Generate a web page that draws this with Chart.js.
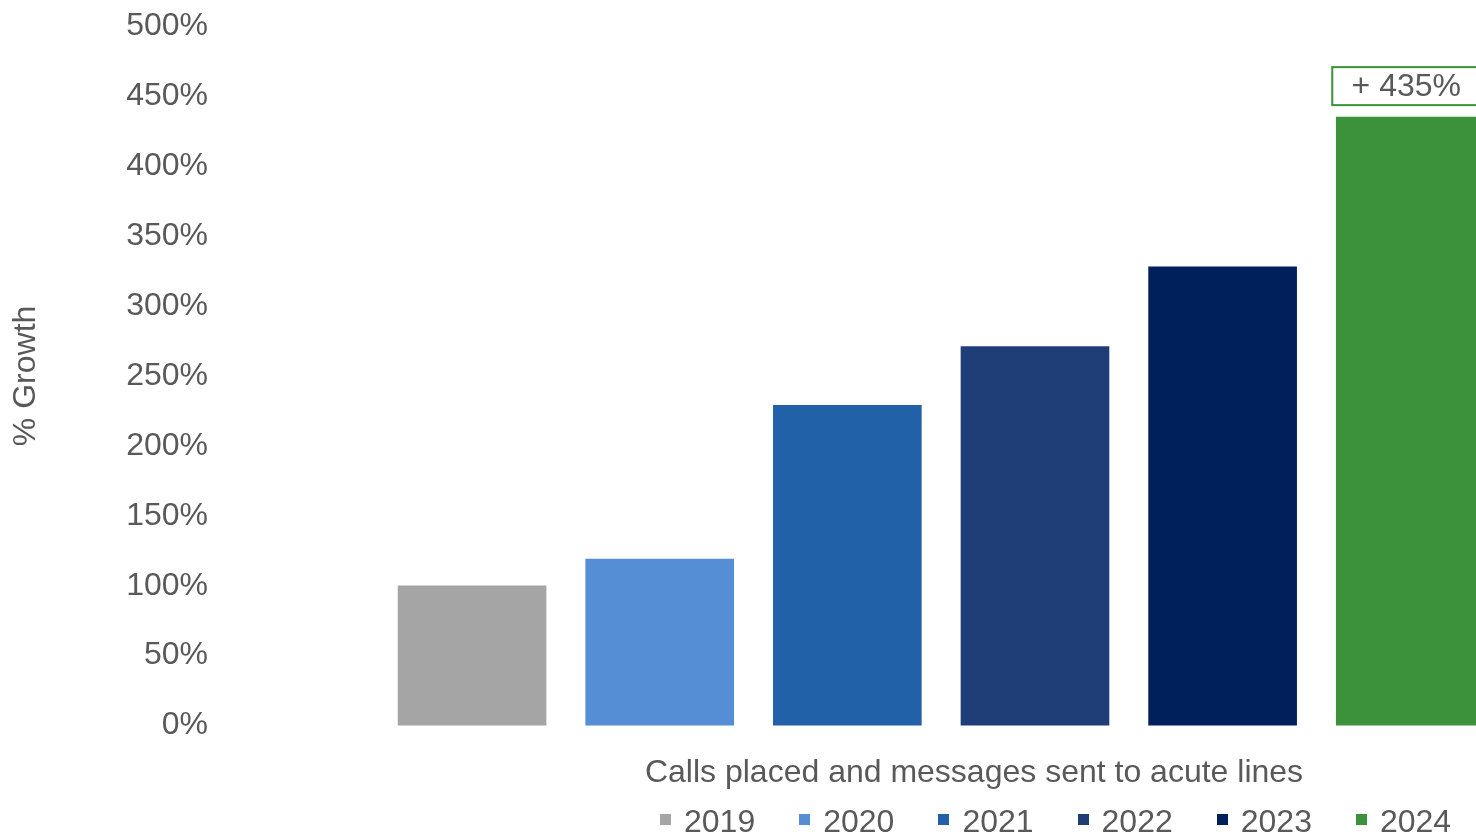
<!DOCTYPE html>
<html>
<head>
<meta charset="utf-8">
<script src="https://cdn.jsdelivr.net/npm/chart.js@4"></script>
<style>
    html, body { margin: 0; padding: 0; background: #fff; overflow: hidden; }
    #wrap { position: relative; width: 1476px; height: 836px; overflow: hidden; }
    #legend {
        position: absolute; left: 660px; top: 803px;
        display: flex; gap: 44px;
        font: 32px "Liberation Sans", Arial, sans-serif; color: #595959;
    }
    #legend .item { display: flex; align-items: center; }
    #legend .box { width: 11px; height: 11px; margin-right: 13px; margin-top: -4px; }
</style>
</head>
<body>
<div id="wrap">
    <canvas id="growthChart" width="1733" height="836"></canvas>
    <div id="legend"></div>
</div>
<script>
// values
const years = ['2019', '2020', '2021', '2022', '2023', '2024'];
const growth = [100, 119, 229, 271, 328, 435];
const yearColors = ['#a5a5a5', '#558ed5', '#2161a8', '#1f3e78', '#00205b', '#3c923a'];
const yTicks = [0, 50, 100, 150, 200, 250, 300, 350, 400, 450, 500];
const xTitle = 'Calls placed and messages sent to acute lines';
const yTitle = '% Growth';

const textColor = '#595959';
const fontFamily = '"Liberation Sans", Arial, sans-serif';

// label box above the last bar
const callout = {
    id: 'callout',
    afterDatasetsDraw(chart) {
        const last = years.length - 1;
        const bar = chart.getDatasetMeta(last).data[0];
        if (!bar) return;
        const ctx = chart.ctx;
        const w = 156, h = 38;
        const x = bar.x - w / 2;
        const y = bar.y - 12 - h;
        ctx.save();
        ctx.fillStyle = '#fff';
        ctx.fillRect(x, y, w, h);
        ctx.strokeStyle = yearColors[last];
        ctx.lineWidth = 2;
        ctx.strokeRect(x, y, w, h);
        ctx.fillStyle = textColor;
        ctx.font = '32px ' + fontFamily;
        ctx.textAlign = 'center';
        ctx.textBaseline = 'middle';
        ctx.fillText('+ ' + growth[last] + '%', bar.x - 4, y + h / 2 + 1);
        ctx.restore();
    }
};

new Chart(document.getElementById('growthChart'), {
    type: 'bar',
    data: {
        datasets: years.map((yr, i) => ({
            label: yr,
            data: [{ x: i, y: growth[i] }],
            backgroundColor: yearColors[i],
            grouped: false,
            barThickness: 148
        }))
    },
    options: {
        responsive: false,
        animation: false,
        layout: { padding: { top: 22, bottom: 44, left: 0, right: 0 } },
        plugins: {
            legend: { display: false },
            tooltip: { enabled: false }
        },
        scales: {
            x: {
                type: 'linear',
                offset: false,
                min: -1.37,
                max: 6.72,
                grid: { display: false, drawTicks: false },
                border: { display: false },
                ticks: { display: false },
                title: {
                    display: true,
                    text: xTitle,
                    color: textColor,
                    font: { family: fontFamily, size: 32 },
                    padding: { top: 28, bottom: 0 }
                }
            },
            y: {
                min: 0,
                max: 500,
                afterFit(scale) { scale.width = 215; },
                afterBuildTicks(scale) { scale.ticks = yTicks.map(v => ({ value: v })); },
                grid: { display: false, drawTicks: false },
                border: { display: false },
                ticks: {
                    padding: 7,
                    color: textColor,
                    font: { family: fontFamily, size: 32 },
                    callback: v => v + '%'
                },
                title: {
                    display: true,
                    text: yTitle,
                    color: textColor,
                    font: { family: fontFamily, size: 32 },
                    padding: { top: 7, bottom: 0 }
                }
            }
        }
    },
    plugins: [callout]
});

// legend
const legend = document.getElementById('legend');
years.forEach((yr, i) => {
    const item = document.createElement('div');
    item.className = 'item';
    const box = document.createElement('span');
    box.className = 'box';
    box.style.background = yearColors[i];
    const txt = document.createElement('span');
    txt.textContent = yr;
    item.appendChild(box);
    item.appendChild(txt);
    legend.appendChild(item);
});
</script>
</body>
</html>
